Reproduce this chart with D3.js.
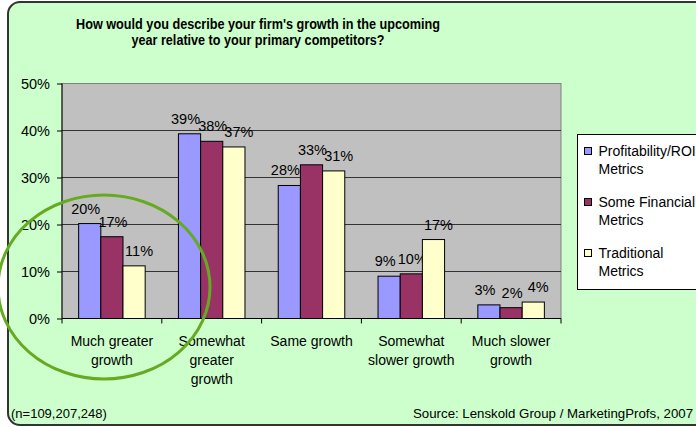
<!DOCTYPE html>
<html>
<head>
<meta charset="utf-8">
<script src="https://cdn.jsdelivr.net/npm/d3@7"></script>
<style>
  body { margin: 0; background: #fff; }
  text { font-family: "Liberation Sans", Arial, sans-serif; fill: #000; }
</style>
</head>
<body>
<svg id="chart"></svg>
<script>
const categories = ['Much greater\ngrowth', 'Somewhat\ngreater\ngrowth', 'Same growth', 'Somewhat\nslower growth', 'Much slower\ngrowth'];
const seriesNames = ['Profitability/ROI\nMetrics', 'Some Financial\nMetrics', 'Traditional\nMetrics'];
const seriesColors = ['#9999FF', '#993366', '#FFFFCC'];
const profitability = [20.2, 39.3, 28.3, 9.0, 2.9];
const financial = [17.4, 37.7, 32.7, 9.5, 2.3];
const traditional = [11.2, 36.5, 31.4, 16.8, 3.5];
const valueLabels = [
    ['20%', '39%', '28%', '9%', '3%'],
    ['17%', '38%', '33%', '10%', '2%'],
    ['11%', '37%', '31%', '17%', '4%']
];
const yTicks = [0, 10, 20, 30, 40, 50];
const titleLines = ["How would you describe your firm's growth in the upcoming", 'year relative to your primary competitors?'];
const sampleNote = '(n=109,207,248)';
const sourceNote = 'Source: Lenskold Group / MarketingProfs, 2007';

const width = 696, height = 427;
const margin = { top: 83.5, left: 62, right: 135, bottom: 108.5 };
const plotW = width - margin.left - margin.right;
const plotH = height - margin.top - margin.bottom;

const seriesValues = [profitability, financial, traditional];
const labelShift = [-4, 1, 5]; // excel nudges the labels apart a bit

const svg = d3.select('#chart').attr('width', width).attr('height', height);
svg.selectAll('*').remove();

// chart area background with rounded frame
svg.append('rect')
    .attr('x', 8).attr('y', 2)
    .attr('width', 740).attr('height', 423)
    .attr('rx', 12)
    .attr('fill', '#CCFFCC')
    .attr('stroke', '#333')
    .attr('stroke-width', 2);

// title
svg.selectAll('.title')
    .data(titleLines)
    .enter()
    .append('text')
    .attr('class', 'title')
    .attr('x', 258)
    .attr('y', (d, i) => 29 + i * 16)
    .attr('text-anchor', 'middle')
    .attr('font-size', '15px')
    .attr('font-weight', 'bold')
    .attr('textLength', (d, i) => i === 0 ? 364 : 253)
    .attr('lengthAdjust', 'spacingAndGlyphs')
    .text(d => d);

const x0 = d3.scaleBand().domain(categories).range([0, plotW]).paddingInner(1 / 3).paddingOuter(1 / 6);
const x1 = d3.scaleBand().domain(d3.range(seriesNames.length)).range([0, x0.bandwidth()]);
const y = d3.scaleLinear().domain([0, 50]).range([plotH, 0]);

const g = svg.append('g').attr('transform', `translate(${margin.left}, ${margin.top})`);

g.append('rect')
    .attr('width', plotW).attr('height', plotH)
    .attr('fill', '#C0C0C0')
    .attr('stroke', '#808080')
    .attr('stroke-width', 1);

// gridlines
g.selectAll('.grid')
    .data(yTicks.filter(t => t > 0 && t < 50))
    .enter()
    .append('line')
    .attr('x1', 0).attr('x2', plotW)
    .attr('y1', d => y(d)).attr('y2', d => y(d))
    .attr('stroke', '#333')
    .attr('stroke-width', 1);

// bars
const groups = g.selectAll('.cat')
    .data(categories)
    .enter()
    .append('g')
    .attr('transform', d => `translate(${x0(d)}, 0)`);

groups.each(function(cat, ci) {
    const grp = d3.select(this);
    seriesValues.forEach((vals, si) => {
        grp.append('rect')
            .attr('x', x1(si))
            .attr('y', y(vals[ci]))
            .attr('width', x1.bandwidth())
            .attr('height', plotH - y(vals[ci]))
            .attr('fill', seriesColors[si])
            .attr('stroke', '#000')
            .attr('stroke-width', 1);
        grp.append('text')
            .attr('x', x1(si) + x1.bandwidth() / 2 + labelShift[si])
            .attr('y', y(vals[ci]) - 10)
            .attr('text-anchor', 'middle')
            .attr('font-size', '14.5px')
            .text(valueLabels[si][ci]);
    });
});

// y axis
const yAxis = g.append('g')
    .call(d3.axisLeft(y).tickValues(yTicks).tickFormat(d => d + '%').tickSize(5).tickPadding(7));
yAxis.select('.domain').attr('stroke', '#000').attr('d', `M0,0V${plotH}`);
yAxis.selectAll('text').attr('font-size', '14.5px').attr('font-family', '"Liberation Sans", Arial, sans-serif').attr('fill', '#000');
yAxis.selectAll('line').attr('stroke', '#000');

// x axis: ticks between categories
const step = x0.step();
g.append('line')
    .attr('x1', 0).attr('x2', plotW)
    .attr('y1', plotH).attr('y2', plotH)
    .attr('stroke', '#000');
g.selectAll('.xtick')
    .data(d3.range(categories.length + 1))
    .enter()
    .append('line')
    .attr('x1', i => i * step).attr('x2', i => i * step)
    .attr('y1', plotH).attr('y2', plotH + 5)
    .attr('stroke', '#000');

g.selectAll('.xlabel')
    .data(categories)
    .enter()
    .append('text')
    .attr('text-anchor', 'middle')
    .attr('font-size', '14px')
    .attr('transform', d => `translate(${x0(d) + x0.bandwidth() / 2}, ${plotH + 27})`)
    .each(function(d) {
        d.split('\n').forEach((line, i) => {
            d3.select(this).append('tspan').attr('x', 0).attr('y', i * 19).text(line);
        });
    });

// legend
const legend = svg.append('g').attr('transform', 'translate(577.5, 134.5)');
legend.append('rect')
    .attr('width', 200).attr('height', 155)
    .attr('fill', '#fff')
    .attr('stroke', '#000');

const items = legend.selectAll('.item')
    .data(seriesNames)
    .enter()
    .append('g')
    .attr('transform', (d, i) => `translate(7, ${13 + i * 51})`);
items.append('rect')
    .attr('width', 7).attr('height', 7)
    .attr('fill', (d, i) => seriesColors[i])
    .attr('stroke', '#000');
items.append('text')
    .attr('font-size', '14px')
    .each(function(d) {
        d.split('\n').forEach((line, i) => {
            d3.select(this).append('tspan').attr('x', 14).attr('y', 8 + i * 18).text(line);
        });
    });

// footnotes
svg.append('text')
    .attr('x', 11).attr('y', 418)
    .attr('font-size', '13px')
    .text(sampleNote);
svg.append('text')
    .attr('x', 693).attr('y', 418)
    .attr('text-anchor', 'end')
    .attr('font-size', '13px')
    .attr('textLength', 280)
    .attr('lengthAdjust', 'spacingAndGlyphs')
    .text(sourceNote);

// green highlight ring around the first group
svg.append('ellipse')
    .attr('cx', 104).attr('cy', 287)
    .attr('rx', 106).attr('ry', 92)
    .attr('fill', 'none')
    .attr('stroke', '#66AA22')
    .attr('stroke-width', 3);
</script>
</body>
</html>
